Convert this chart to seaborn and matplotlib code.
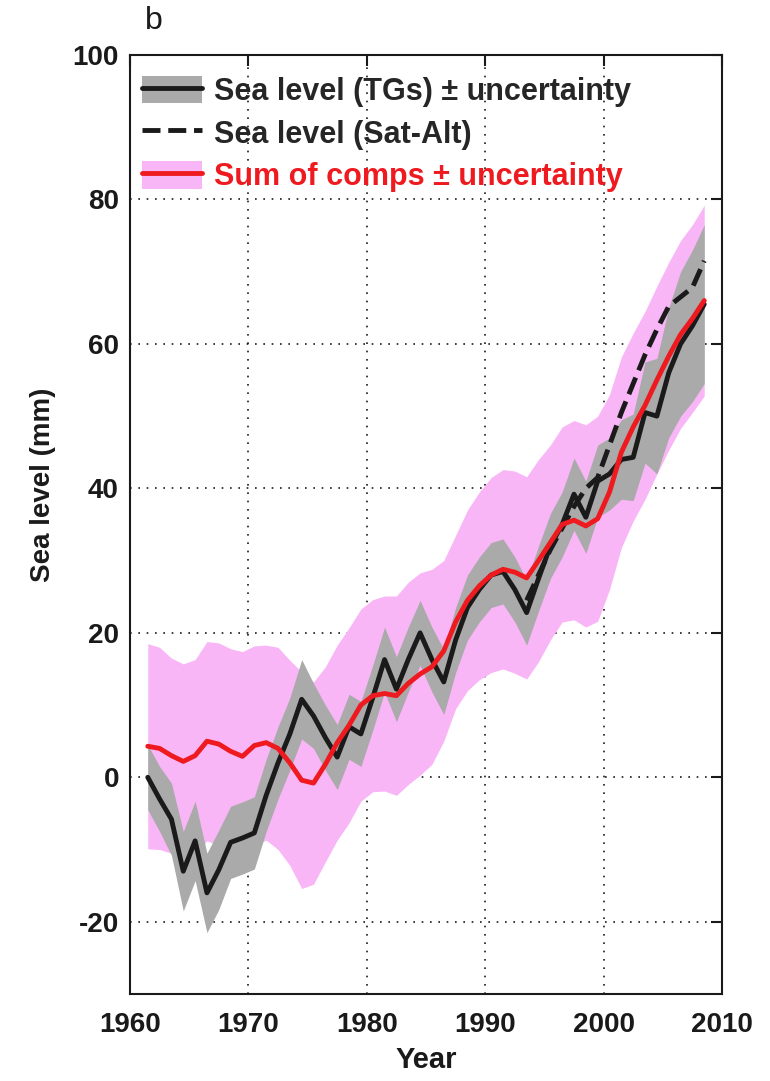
import numpy as np
import pandas as pd
import matplotlib
matplotlib.use("Agg")
import matplotlib.pyplot as plt
import seaborn as sns
from matplotlib.patches import Patch
from matplotlib.lines import Line2D

# ---------------- data ----------------
years = np.arange(1961.5, 2009.0, 1.0)          # mid-year, 1961 ... 2008

tg_level = [0.0, -3.0, -5.8, -13.0, -8.8, -16.0, -12.8, -9.0, -8.4, -7.7,
            -2.5, 2.0, 6.0, 10.8, 8.5, 5.5, 2.8, 7.0, 6.0, 11.0,
            16.3, 12.2, 16.3, 20.0, 16.3, 13.2, 19.0, 23.5, 26.0, 28.0,
            28.5, 26.0, 22.8, 27.5, 32.0, 35.0, 39.2, 36.0, 41.0, 42.0,
            44.0, 44.3, 50.5, 50.0, 56.0, 60.0, 62.5, 65.5]

tg_unc = [4.5, 4.5, 5.0, 5.5, 5.5, 5.5, 5.5, 5.0, 5.0, 5.0,
          5.0, 5.0, 5.0, 5.5, 4.5, 4.5, 4.5, 4.5, 4.5, 4.5,
          4.5, 4.5, 4.5, 4.5, 4.5, 4.5, 4.5, 4.5, 4.5, 4.5,
          4.5, 4.5, 4.5, 4.5, 4.5, 4.5, 5.0, 5.0, 5.0, 5.0,
          5.5, 6.0, 7.0, 8.0, 9.0, 10.0, 10.5, 11.0]

sum_level = [4.3, 4.0, 3.0, 2.2, 3.0, 5.0, 4.6, 3.6, 2.9, 4.4,
             4.8, 4.0, 2.0, -0.4, -0.8, 1.8, 4.8, 7.2, 10.0, 11.3,
             11.6, 11.3, 13.0, 14.3, 15.3, 17.5, 21.5, 24.5, 26.5, 28.0,
             28.8, 28.4, 27.6, 30.0, 32.5, 35.0, 35.6, 34.8, 35.8, 39.5,
             45.0, 48.5, 51.5, 55.0, 58.3, 61.3, 63.5, 66.0]

sum_unc = [14.2, 14.0, 13.5, 13.5, 13.3, 13.8, 14.0, 14.2, 14.5, 13.8,
           13.5, 14.0, 14.2, 15.0, 14.0, 13.5, 13.5, 13.5, 13.3, 13.3,
           13.5, 13.8, 14.0, 14.0, 13.5, 12.5, 12.0, 12.5, 13.0, 13.5,
           13.8, 14.0, 14.0, 14.0, 13.5, 13.5, 13.8, 14.0, 14.2, 13.5,
           13.2, 13.0, 13.0, 13.0, 13.0, 13.0, 13.0, 13.2]

sat_years = np.arange(1993.5, 2009.0, 1.0)      # 1993 ... 2008
sat_level = [24.5, 28.0, 31.5, 34.5, 37.5, 40.0, 41.5, 46.0,
             50.5, 54.5, 58.5, 62.0, 65.2, 66.5, 67.8, 71.5]

x_ticks = [1960, 1970, 1980, 1990, 2000, 2010]
y_ticks = [-20, 0, 20, 40, 60, 80, 100]
legend_labels = ["Sea level (TGs) \u00b1 uncertainty",
                 "Sea level (Sat-Alt)",
                 "Sum of comps \u00b1 uncertainty"]

# ---------------- style ----------------
PINK = "#f9b6f7"
GRAY = "#aaaaaa"
RED = "#ee1a1f"
LW = 3.5

sns.set_theme(style="white")
plt.rcParams["font.family"] = ["Liberation Sans", "DejaVu Sans"]
plt.rcParams["font.weight"] = "bold"
plt.rcParams["axes.unicode_minus"] = False

df = pd.DataFrame({"year": years, "tg": tg_level, "tg_unc": tg_unc,
                   "sum": sum_level, "sum_unc": sum_unc})
sat_df = pd.DataFrame({"year": sat_years, "sat": sat_level})

fig = plt.figure(figsize=(7.7, 10.81), dpi=100)
ax = fig.add_axes([130 / 770, 1 - 994 / 1081, 592 / 770, 939 / 1081])

ax.fill_between(df["year"], df["sum"] - df["sum_unc"], df["sum"] + df["sum_unc"],
                color=PINK, lw=0, zorder=1)
ax.fill_between(df["year"], df["tg"] - df["tg_unc"], df["tg"] + df["tg_unc"],
                color=GRAY, lw=0, zorder=2)
sns.lineplot(data=df, x="year", y="tg", color="k", lw=LW, ax=ax, zorder=3)
sns.lineplot(data=sat_df, x="year", y="sat", color="k", lw=LW, linestyle="--",
             ax=ax, zorder=4)
sns.lineplot(data=df, x="year", y="sum", color=RED, lw=LW, ax=ax, zorder=5)

ax.set_xlim(1960, 2010)
ax.set_ylim(-30, 100)
ax.set_xticks(x_ticks)
ax.set_yticks(y_ticks)
ax.set_axisbelow(True)
ax.grid(True, color="k", linestyle=(0, (1, 4)), linewidth=1.2)

ax.tick_params(direction="in", length=8, width=1.5, top=True, right=True,
               labelsize=20, colors="k")
ax.tick_params(axis="x", pad=13)
ax.tick_params(axis="y", pad=8)
for lab in ax.get_xticklabels() + ax.get_yticklabels():
    lab.set_fontweight("bold")
for sp in ax.spines.values():
    sp.set_color("k")
    sp.set_linewidth(1.5)

ax.set_xlabel("Year", fontsize=21, fontweight="bold", color="k")
ax.set_ylabel("Sea level (mm)", fontsize=20, fontweight="bold", color="k")
ax.xaxis.set_label_coords(0.5, -0.055)
ax.yaxis.set_label_coords(-0.125, 0.542)

h1 = (Patch(facecolor=GRAY, edgecolor="none"), Line2D([], [], color="k", lw=LW))
h2 = Line2D([], [], color="k", lw=LW, linestyle="--")
h3 = (Patch(facecolor=PINK, edgecolor="none"), Line2D([], [], color=RED, lw=LW))
leg = ax.legend([h1, h2, h3], legend_labels, loc="upper left",
                bbox_to_anchor=(0.0, 0.991), borderaxespad=0.0, frameon=False,
                prop={"size": 22, "weight": "bold"}, handlelength=1.95,
                handleheight=1.0, handletextpad=0.4, labelspacing=0.38)
leg.get_texts()[2].set_color(RED)

fig.text(145 / 770, 1 - 6 / 1081, "b", fontsize=23, fontweight="normal",
         va="top", ha="left", color="k")

fig.savefig("out.png", dpi=100)
